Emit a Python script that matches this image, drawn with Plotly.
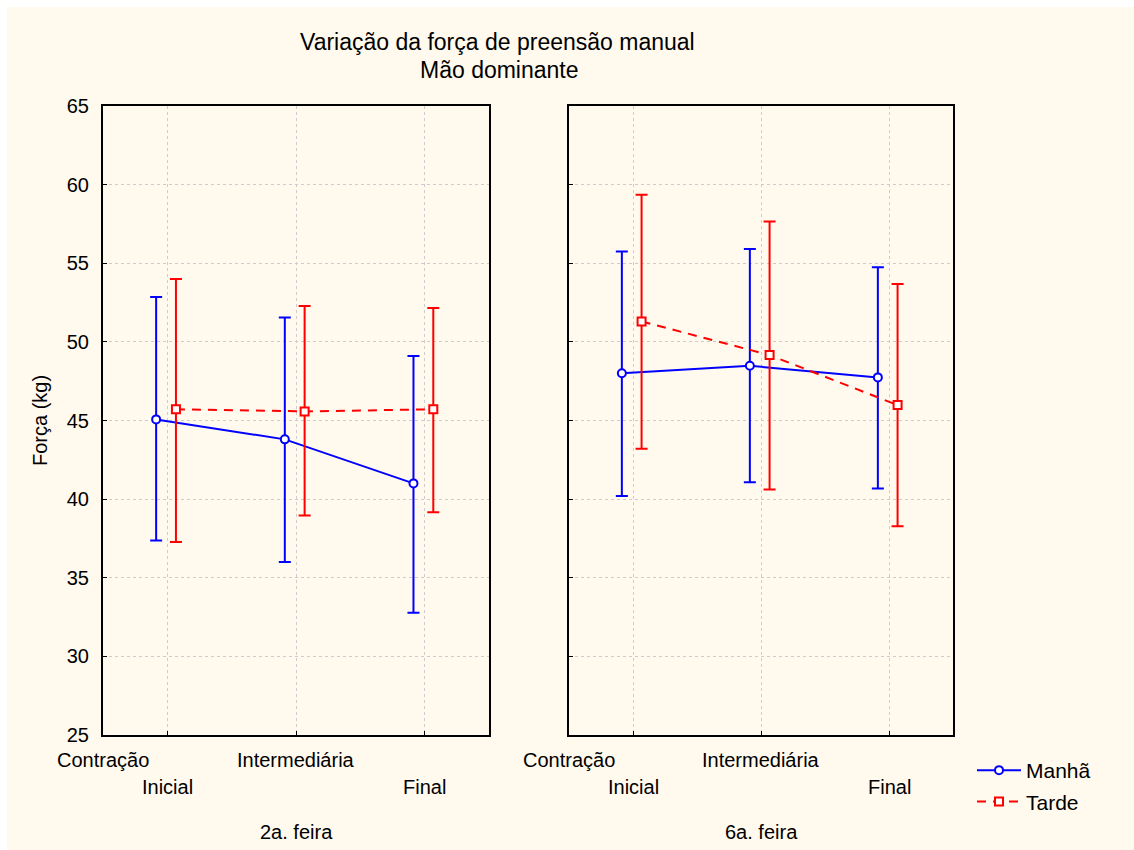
import plotly.graph_objects as go

# ---------------- data ----------------
categories = ["Contração Inicial", "Intermediária", "Final"]
panels = ["2a. feira", "6a. feira"]
series = ["Manhã", "Tarde"]

# 2a. feira
seg_manha_mean = [45.07, 43.80, 41.00]
seg_manha_low = [37.37, 36.00, 32.77]
seg_manha_high = [52.85, 51.55, 49.10]
seg_tarde_mean = [45.71, 45.58, 45.71]
seg_tarde_low = [37.28, 38.96, 39.17]
seg_tarde_high = [54.00, 52.28, 52.15]

# 6a. feira
sex_manha_mean = [48.00, 48.48, 47.74]
sex_manha_low = [40.20, 41.08, 40.68]
sex_manha_high = [55.75, 55.90, 54.75]
sex_tarde_mean = [51.30, 49.16, 45.98]
sex_tarde_low = [43.20, 40.62, 38.28]
sex_tarde_high = [59.35, 57.65, 53.68]

y_ticks = [25, 30, 35, 40, 45, 50, 55, 60, 65]

# ---------------- style ----------------
W, H = 1134, 850
FONT = "Liberation Sans, Arial, sans-serif"
BLUE = "#0000FF"
RED = "#FF0000"
CREAM = "#FFF9EE"
OFF = {"Manhã": -0.087, "Tarde": 0.067}


def px_x(p):
    return p / W


def px_y(p):
    return 1 - p / H


dom_left = [px_x(103), px_x(489)]
dom_right = [px_x(569), px_x(953)]
dom_y = [px_y(735), px_y(106)]

fig = go.Figure()

data = {
    ("2a. feira", "Manhã"): (seg_manha_mean, seg_manha_low, seg_manha_high),
    ("2a. feira", "Tarde"): (seg_tarde_mean, seg_tarde_low, seg_tarde_high),
    ("6a. feira", "Manhã"): (sex_manha_mean, sex_manha_low, sex_manha_high),
    ("6a. feira", "Tarde"): (sex_tarde_mean, sex_tarde_low, sex_tarde_high),
}

for pi, panel in enumerate(panels):
    xa = "x" if pi == 0 else "x2"
    ya = "y" if pi == 0 else "y2"
    for s in series:
        mean, low, high = data[(panel, s)]
        color = BLUE if s == "Manhã" else RED
        xs = [i + OFF[s] for i in range(len(categories))]
        fig.add_trace(go.Scatter(
            x=xs, y=mean, xaxis=xa, yaxis=ya,
            mode="lines+markers",
            name=s,
            legendgroup=s,
            showlegend=(pi == 0),
            line=dict(color=color, width=2,
                      dash="solid" if s == "Manhã" else "9px,7px"),
            marker=dict(symbol="circle" if s == "Manhã" else "square",
                        size=8, color="white",
                        line=dict(color=color, width=2)),
            error_y=dict(type="data", symmetric=False,
                         array=[h - m for h, m in zip(high, mean)],
                         arrayminus=[m - l for m, l in zip(mean, low)],
                         color=color, thickness=2, width=6),
        ))

axis_common = dict(
    showline=True, linecolor="black", linewidth=2, mirror=True,
    showgrid=True, gridcolor="#CCCCCC", griddash="dot", gridwidth=1,
    ticks="inside", ticklen=4, tickcolor="black", tickwidth=1,
    zeroline=False, automargin=False,
)

fig.update_layout(
    width=W, height=H,
    margin=dict(l=0, r=0, t=0, b=0, pad=0, autoexpand=False),
    paper_bgcolor="white",
    plot_bgcolor="white",
    font=dict(family=FONT, size=20, color="black"),
    xaxis=dict(domain=dom_left, range=[-0.5, 2.5], tickvals=[0, 1, 2],
               ticktext=["", "", ""], anchor="y", **axis_common),
    xaxis2=dict(domain=dom_right, range=[-0.5, 2.5], tickvals=[0, 1, 2],
                ticktext=["", "", ""], anchor="y2", **axis_common),
    yaxis=dict(domain=dom_y, range=[25, 65], tickvals=y_ticks,
               anchor="x", ticklabelstandoff=8, **axis_common),
    yaxis2=dict(domain=dom_y, range=[25, 65], tickvals=y_ticks,
                showticklabels=False, anchor="x2", **axis_common),
    legend=dict(x=px_x(972), y=px_y(750), xanchor="left", yanchor="top",
                bgcolor="rgba(0,0,0,0)", font=dict(size=21),
                itemwidth=44, tracegroupgap=1),
    showlegend=True,
)

# cream page background
fig.add_shape(type="rect", xref="paper", yref="paper",
              x0=px_x(7), x1=1, y0=0, y1=px_y(7),
              fillcolor=CREAM, line=dict(width=0), layer="below")

ann = []
ann.append(dict(text="Variação da força de preensão manual", x=px_x(497), y=px_y(42),
                font=dict(size=23)))
ann.append(dict(text="Mão dominante", x=px_x(499), y=px_y(70), font=dict(size=23)))
ann.append(dict(text="Força (kg)", x=px_x(40), y=px_y(421), textangle=-90))
for pi, panel in enumerate(panels):
    xr = "x" if pi == 0 else "x2"
    # staggered category labels
    ann.append(dict(text=categories[0].split(" ")[0], x=-0.5, y=px_y(760), xref=xr))
    ann.append(dict(text=categories[0].split(" ")[1], x=0, y=px_y(787), xref=xr))
    ann.append(dict(text=categories[1], x=1, y=px_y(760), xref=xr))
    ann.append(dict(text=categories[2], x=2, y=px_y(787), xref=xr))
    ann.append(dict(text=panel, x=1, y=px_y(832), xref=xr))

for a in ann:
    a.setdefault("xref", "paper")
    a["yref"] = "paper"
    a["showarrow"] = False
    a["xanchor"] = "center"
    a["yanchor"] = "middle"
    fig.add_annotation(**a)

fig.write_html("out.html", config={"displayModeBar": False},
               post_script="document.body.style.margin='0';")
